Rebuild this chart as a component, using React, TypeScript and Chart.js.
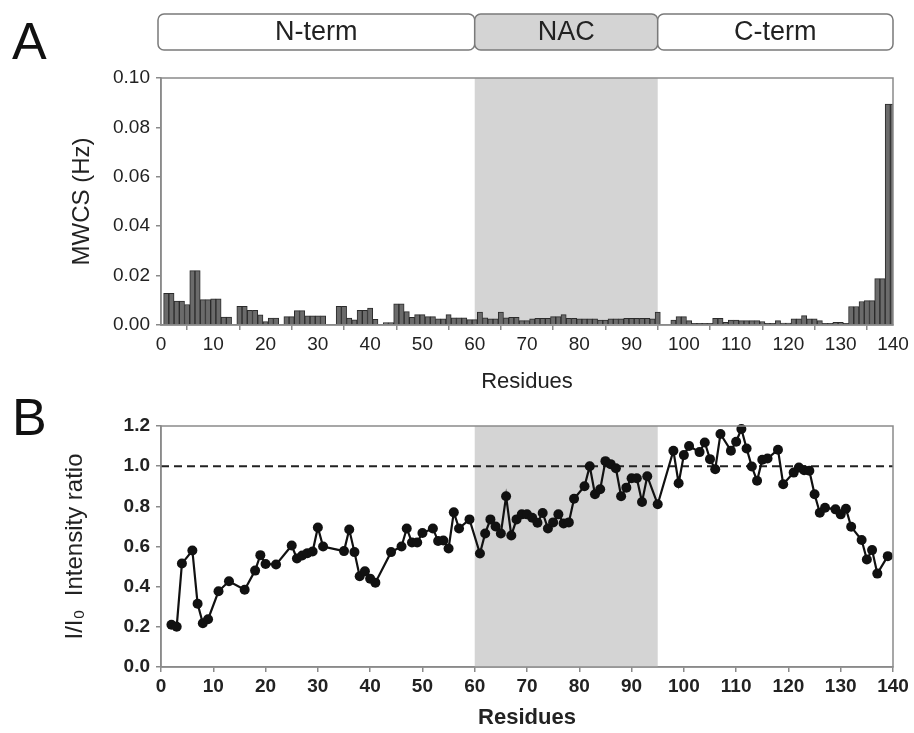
import React, { useEffect, useRef } from 'react';
import { Chart, registerables } from 'chart.js';

Chart.register(...registerables);

// ---------- Data ----------
const mwcsResidues = [
  1, 2, 3, 4, 5, 6, 7, 8, 9, 10, 11, 12, 13, 15, 16, 17, 18, 19, 20, 21, 22, 24, 25, 26, 27, 28, 29, 30, 31,
  34, 35, 36, 37, 38, 39, 40, 41, 43, 44, 45, 46, 47, 48, 49, 50, 51, 52, 53, 54, 55, 56, 57, 58, 59, 60,
  61, 62, 63, 64, 65, 66, 67, 68, 69, 70, 71, 72, 73, 74, 75, 76, 77, 78, 79, 80, 81, 82, 83, 84, 85, 86,
  87, 88, 89, 90, 91, 92, 93, 94, 95, 98, 99, 100, 101, 102, 103, 104, 105, 106, 107, 108, 109, 110, 111,
  112, 113, 114, 115, 116, 117, 118, 119, 120, 121, 122, 123, 124, 125, 126, 127, 128, 129, 130, 131, 132,
  133, 134, 135, 136, 137, 138, 139, 140,
];
const mwcsValues = [
  0.0128, 0.0128, 0.0097, 0.0097, 0.0083, 0.022, 0.022, 0.0103, 0.0103, 0.0106, 0.0106, 0.0032, 0.0032,
  0.0076, 0.0076, 0.0059, 0.0059, 0.0041, 0.0014, 0.0028, 0.0028, 0.0034, 0.0034, 0.0058, 0.0058, 0.0037,
  0.0037, 0.0037, 0.0037,
  0.0076, 0.0076, 0.0028, 0.0021, 0.0059, 0.0059, 0.0069, 0.0023, 0.001, 0.001, 0.0086, 0.0086, 0.0054,
  0.0031, 0.0042, 0.0042, 0.0034, 0.0034, 0.0025, 0.0025, 0.0042, 0.0029, 0.0029, 0.0029, 0.0022, 0.0022,
  0.0052, 0.0029, 0.0025, 0.0025, 0.0052, 0.0029, 0.0031, 0.0031, 0.0018, 0.0018, 0.0025, 0.0027, 0.0027,
  0.0027, 0.0034, 0.0034, 0.0042, 0.0027, 0.0027, 0.0025, 0.0025, 0.0025, 0.0025, 0.002, 0.002, 0.0025,
  0.0025, 0.0025, 0.0027, 0.0027, 0.0027, 0.0027, 0.0027, 0.0025, 0.0052, 0.002, 0.0034, 0.0034, 0.0018,
  0.0007, 0.0007, 0.0007, 0.0007, 0.0027, 0.0027, 0.0011, 0.002, 0.002, 0.0018,
  0.0018, 0.0018, 0.0018, 0.0014, 0.0007, 0.0007, 0.0018, 0.0008, 0.0008, 0.0025, 0.0025, 0.0038, 0.0025,
  0.0025, 0.0018, 0.0007, 0.0007, 0.0011, 0.0011, 0.0007, 0.0075,
  0.0075, 0.0095, 0.0099, 0.0099, 0.0188, 0.0188, 0.0894, 0.0894,
];

const ratioResidues = [
  2, 3, 4, 6, 7, 8, 9, 11, 13, 16, 18, 19, 20, 22, 25, 26, 27, 28, 29, 30, 31, 35, 36, 37, 38, 39, 40, 41,
  44, 46, 47, 48, 49, 50, 52, 53, 54, 55, 56, 57, 59, 61, 62, 63, 64, 65, 66, 67, 68, 69, 70, 71, 72, 73,
  74, 75, 76, 77, 78, 79, 81, 82, 83, 84, 85, 86, 87, 88, 89, 90, 91, 92, 93, 95, 98, 99, 100, 101, 103,
  104, 105, 106, 107, 109, 110, 111, 112, 113, 114, 115, 116, 118, 119, 121, 122, 123, 124, 125, 126, 127,
  129, 130, 131, 132, 134, 135, 136, 137, 139,
];
const ratioValues = [
  0.21, 0.2, 0.515, 0.58, 0.315, 0.218, 0.238, 0.377, 0.427, 0.385, 0.48, 0.557, 0.513, 0.51, 0.605, 0.54,
  0.555, 0.567, 0.575, 0.695, 0.6, 0.577, 0.685, 0.572, 0.452, 0.477, 0.44, 0.42,
  0.572, 0.6, 0.69, 0.62, 0.62, 0.667, 0.69, 0.627, 0.63, 0.59, 0.77, 0.69, 0.735, 0.565, 0.665, 0.735,
  0.7, 0.665, 0.85, 0.655, 0.735, 0.76, 0.76, 0.743, 0.718, 0.767,
  0.69, 0.72, 0.76, 0.715, 0.72, 0.838, 0.9, 1.0, 0.86, 0.885, 1.025, 1.01, 0.99, 0.85, 0.893, 0.94, 0.94,
  0.822, 0.95, 0.81, 1.077, 0.915, 1.055, 1.1, 1.07,
  1.118, 1.035, 0.985, 1.16, 1.077, 1.122, 1.185, 1.088, 0.998, 0.927, 1.032, 1.038, 1.082, 0.91, 0.968,
  0.993, 0.98, 0.977, 0.86, 0.768, 0.793,
  0.785, 0.76, 0.788, 0.698, 0.632, 0.535, 0.582, 0.465, 0.552,
];

const domainLabels = ['N-term', 'NAC', 'C-term'];
const domainStarts = [0, 60, 95];
const domainEnds = [60, 95, 140];
const domainFills = ['#ffffff', '#d4d4d4', '#ffffff'];

const nacRange = [60, 95];
const referenceRatio = 1.0;

const xMin = 0;
const xMax = 140;
const xStep = 10;
const mwcsMax = 0.1;
const mwcsStep = 0.02;
const ratioMax = 1.2;
const ratioStep = 0.2;

// ---------- Styling ----------
const FONT = '"Liberation Sans", Arial, Helvetica, sans-serif';
const AXIS_COLOR = '#8a8a8a';
const TEXT_COLOR = '#222222';

Chart.defaults.font.family = FONT;

const bandPlugin = {
  id: 'nacBand',
  beforeDatasetsDraw(chart: any) {
    const { ctx, chartArea, scales } = chart;
    const x0 = scales.x.getPixelForValue(nacRange[0]);
    const x1 = scales.x.getPixelForValue(nacRange[1]);
    ctx.save();
    ctx.fillStyle = '#d4d4d4';
    ctx.fillRect(x0, chartArea.top, x1 - x0, chartArea.bottom - chartArea.top);
    ctx.restore();
  },
};

const framePlugin = {
  id: 'frame',
  afterDatasetsDraw(chart: any) {
    const { ctx, chartArea } = chart;
    ctx.save();
    ctx.strokeStyle = AXIS_COLOR;
    ctx.lineWidth = 1.5;
    ctx.strokeRect(chartArea.left, chartArea.top, chartArea.right - chartArea.left, chartArea.bottom - chartArea.top);
    ctx.restore();
  },
};

const domainPlugin = {
  id: 'domains',
  afterDraw(chart: any) {
    const { ctx, scales } = chart;
    const top = 14;
    const h = 36;
    ctx.save();
    for (let i = 0; i < domainLabels.length; i++) {
      let x0 = scales.x.getPixelForValue(domainStarts[i]);
      const x1 = scales.x.getPixelForValue(domainEnds[i]);
      if (i === 0) x0 -= 3;
      ctx.beginPath();
      (ctx as any).roundRect(x0, top, x1 - x0, h, 6);
      ctx.fillStyle = domainFills[i];
      ctx.fill();
      ctx.strokeStyle = '#7a7a7a';
      ctx.lineWidth = 1.5;
      ctx.stroke();
      ctx.fillStyle = TEXT_COLOR;
      ctx.font = `27px ${FONT}`;
      ctx.textAlign = 'center';
      ctx.textBaseline = 'middle';
      ctx.fillText(domainLabels[i], (x0 + x1) / 2, top + h / 2 + 1);
    }
    ctx.restore();
  },
};

const dashedPlugin = {
  id: 'refLine',
  beforeDatasetsDraw(chart: any) {
    const { ctx, chartArea, scales } = chart;
    const y = scales.y.getPixelForValue(referenceRatio);
    ctx.save();
    ctx.strokeStyle = '#222';
    ctx.lineWidth = 2;
    ctx.setLineDash([8, 5]);
    ctx.beginPath();
    ctx.moveTo(chartArea.left, y);
    ctx.lineTo(chartArea.right, y);
    ctx.stroke();
    ctx.restore();
  },
};

function xScale(bold: boolean, titleSize: number, height: number, padBottom: number) {
  return {
    type: 'linear',
    min: xMin,
    max: xMax,
    offset: false,
    ticks: {
      stepSize: xStep,
      autoSkip: false,
      maxRotation: 0,
      padding: 3,
      color: TEXT_COLOR,
      font: { size: 19, weight: bold ? 'bold' : 'normal' },
    },
    grid: { drawOnChartArea: false, drawTicks: true, tickLength: 5, color: AXIS_COLOR, lineWidth: 1.5 },
    border: { color: AXIS_COLOR, width: 1.5 },
    title: {
      display: true,
      text: 'Residues',
      color: TEXT_COLOR,
      font: { size: titleSize, weight: bold ? 'bold' : 'normal' },
      padding: { top: 0, bottom: padBottom },
    },
    afterFit: (s: any) => {
      s.height = height;
    },
  };
}

export default function App() {
  const topRef = useRef<HTMLCanvasElement>(null);
  const botRef = useRef<HTMLCanvasElement>(null);

  useEffect(() => {
    const top = new Chart(topRef.current as HTMLCanvasElement, {
      type: 'bar',
      data: {
        datasets: [
          {
            data: mwcsResidues.map((r, i) => ({ x: r, y: mwcsValues[i] })),
            backgroundColor: '#6b6b6b',
            borderColor: '#2b2b2b',
            borderWidth: 1,
            barPercentage: 1,
            categoryPercentage: 1,
          },
        ],
      },
      options: {
        animation: false,
        responsive: false,
        maintainAspectRatio: false,
        layout: { padding: { top: 78, right: 21, left: 60, bottom: 0 } },
        plugins: { legend: { display: false }, tooltip: { enabled: false } },
        scales: {
          x: xScale(false, 22, 70, 0) as any,
          y: {
            min: 0,
            max: mwcsMax,
            ticks: {
              stepSize: mwcsStep,
              padding: 6,
              color: TEXT_COLOR,
              font: { size: 19 },
              callback: (v: any) => Number(v).toFixed(2),
            },
            grid: { drawOnChartArea: false, drawTicks: true, tickLength: 5, color: AXIS_COLOR, lineWidth: 1.5 },
            border: { color: AXIS_COLOR, width: 1.5 },
            title: {
              display: true,
              text: 'MWCS (Hz)',
              color: TEXT_COLOR,
              font: { size: 24 },
              padding: { top: 8, bottom: 0 },
            },
            afterFit: (s: any) => {
              s.width = 101;
            },
          },
        },
      },
      plugins: [bandPlugin, framePlugin, domainPlugin],
    } as any);

    const bot = new Chart(botRef.current as HTMLCanvasElement, {
      type: 'line',
      data: {
        datasets: [
          {
            data: ratioResidues.map((r, i) => ({ x: r, y: ratioValues[i] })),
            borderColor: '#111',
            borderWidth: 2.2,
            pointRadius: 5,
            pointBackgroundColor: '#111',
            pointBorderColor: '#111',
            pointBorderWidth: 0,
            tension: 0,
            fill: false,
            clip: false,
          },
        ],
      },
      options: {
        animation: false,
        responsive: false,
        maintainAspectRatio: false,
        layout: { padding: { top: 31, right: 21, left: 60, bottom: 0 } },
        plugins: { legend: { display: false }, tooltip: { enabled: false } },
        scales: {
          x: xScale(true, 22, 66, 2) as any,
          y: {
            min: 0,
            max: ratioMax,
            ticks: {
              stepSize: ratioStep,
              padding: 6,
              color: TEXT_COLOR,
              font: { size: 19, weight: 'bold' },
              callback: (v: any) => Number(v).toFixed(1),
            },
            grid: { drawOnChartArea: false, drawTicks: true, tickLength: 5, color: AXIS_COLOR, lineWidth: 1.5 },
            border: { color: AXIS_COLOR, width: 1.5 },
            title: {
              display: true,
              text: 'I/I\u2080  Intensity ratio',
              color: TEXT_COLOR,
              font: { size: 24 },
              padding: { top: 1, bottom: 0 },
            },
            afterFit: (s: any) => {
              s.width = 101;
            },
          },
        },
      },
      plugins: [bandPlugin, dashedPlugin, framePlugin],
    } as any);

    return () => {
      top.destroy();
      bot.destroy();
    };
  }, []);

  const letter: React.CSSProperties = {
    position: 'absolute',
    left: 12,
    fontFamily: FONT,
    fontSize: 52,
    lineHeight: 1,
    color: '#111',
  };

  return (
    <div style={{ position: 'fixed', left: 0, top: 0, width: 914, height: 733, background: '#fff' }}>
      <canvas ref={topRef} width={914} height={395} style={{ position: 'absolute', left: 0, top: 0, width: 914, height: 395 }} />
      <canvas ref={botRef} width={914} height={338} style={{ position: 'absolute', left: 0, top: 395, width: 914, height: 338 }} />
      <div style={{ ...letter, top: 15 }}>A</div>
      <div style={{ ...letter, top: 391 }}>B</div>
    </div>
  );
}
